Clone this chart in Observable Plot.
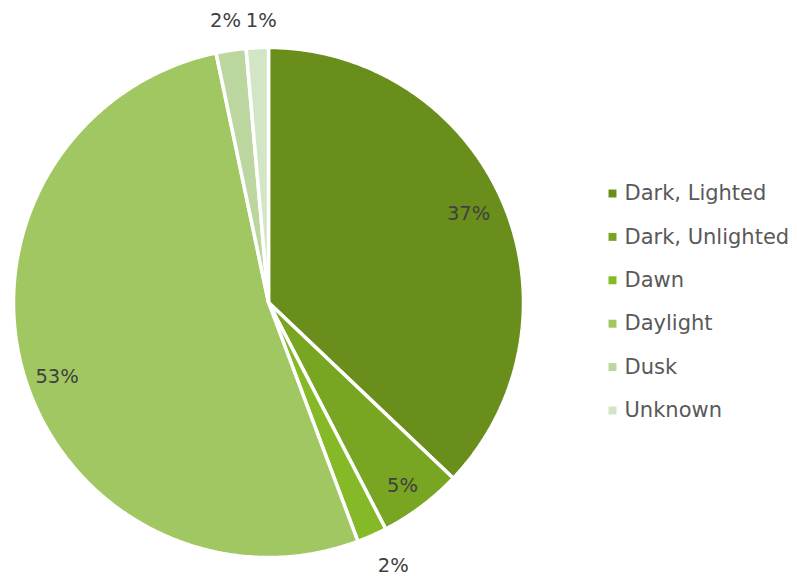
<!DOCTYPE html>
<html><head><meta charset="utf-8">
<script src="https://cdn.jsdelivr.net/npm/d3@7"></script>
<script src="https://cdn.jsdelivr.net/npm/@observablehq/plot@0.6"></script>
<style>body{margin:0;background:#fff}</style>
</head><body><div id="chart"></div>
<script>
const categories = ["Dark, Lighted", "Dark, Unlighted", "Dawn", "Daylight", "Dusk", "Unknown"];
const values = [37.1, 5.3, 1.9, 52.4, 1.9, 1.4];
const labels = ["37%", "5%", "2%", "53%", "2%", "1%"];
const colors = ["#6a8e1b", "#78a522", "#86b927", "#a1c762", "#bbd79f", "#d2e5c5"];
// label radius (fraction of pie radius) per slice: inside or outside
const labelRadius = [0.79, 0.79, 1.1, 0.79, 1.1, 1.1];
// pixel nudges for the labels
const labelDx = [15, 13, 11, -18, 11, 0];
const labelDy = [-9, 22, 7, 18, 1, 4];

const W = 797, H = 576, cx = 268, cy = 302, R = 255;
const pie = d3.pie().sort(null).value(d => d)(values);

const poly = [];
pie.forEach((s, i) => {
  const n = Math.max(4, Math.ceil((s.endAngle - s.startAngle) / 0.01));
  poly.push({cat: categories[i], x: 0, y: 0});
  for (let k = 0; k <= n; k++) {
    const a = s.startAngle + (s.endAngle - s.startAngle) * k / n;
    poly.push({cat: categories[i], x: Math.sin(a), y: Math.cos(a)});
  }
  poly.push({cat: categories[i], x: 0, y: 0});
});

const labelData = pie.map((s, i) => {
  const a = (s.startAngle + s.endAngle) / 2;
  return {label: labels[i], x: Math.sin(a) * labelRadius[i] + labelDx[i] / R, y: Math.cos(a) * labelRadius[i] - labelDy[i] / R};
});
labelData[4].x -= 0.05; labelData[4].y += 0.02;
labelData[5].x += 0.02; labelData[5].y += 0.02;

const xDomain = [(0 - cx) / R, (W - cx) / R];
const yDomain = [-(H - cy) / R, cy / R];

const legendData = categories.map((c, i) => ({cat: c, x: (612 - cx) / R, y: (cy - (193 + i * 43.4)) / R}));

const chart = Plot.plot({
  width: W, height: H,
  margin: 0,
  x: {domain: xDomain, axis: null},
  y: {domain: yDomain, axis: null},
  color: {domain: categories, range: colors},
  style: {fontFamily: "DejaVu Sans, sans-serif"},
  marks: [
    Plot.line(poly, {x: "x", y: "y", z: "cat", fill: "cat", stroke: "white", strokeWidth: 3.5, strokeLinejoin: "miter", curve: "linear"}),
    Plot.text(labelData, {x: "x", y: "y", text: "label", fill: "#404040", fontSize: 19.5}),
    Plot.dot(legendData, {x: "x", y: "y", symbol: "square", fill: "cat", r: 4.5}),
    Plot.text(legendData, {x: "x", y: "y", text: "cat", dx: 12, textAnchor: "start", fill: "#595959", fontSize: 21})
  ]
});
document.getElementById("chart").appendChild(chart);
</script>
</body></html>
